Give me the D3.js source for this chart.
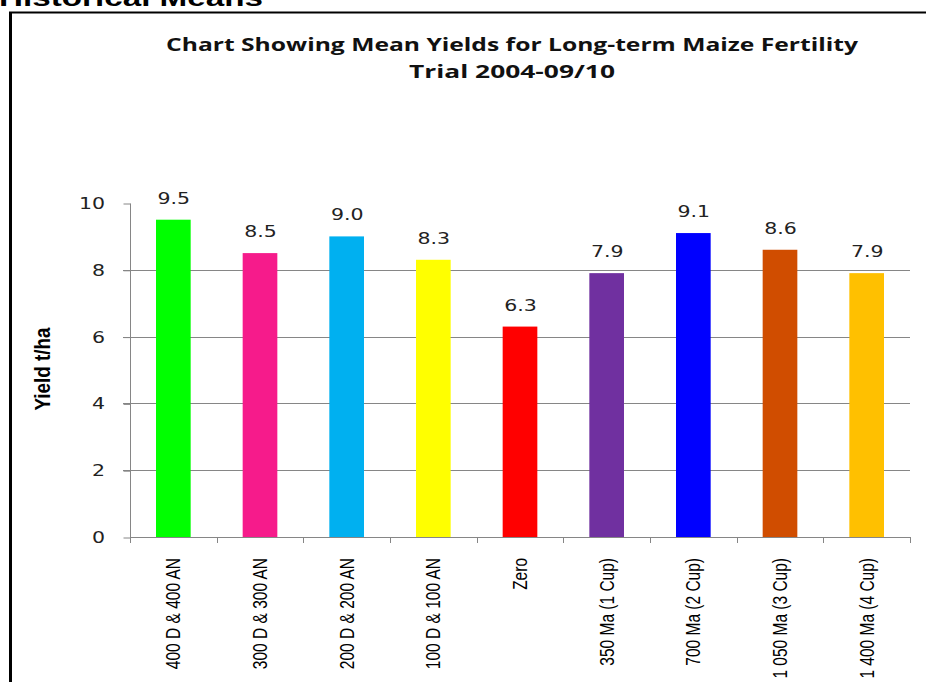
<!DOCTYPE html>
<html>
<head>
<meta charset="utf-8">
<script src="https://cdn.jsdelivr.net/npm/d3@7"></script>
<style>
  body { margin: 0; background: #fff; }
  svg { display: block; }
</style>
</head>
<body>
<div id="chart"></div>
<script>
// data
var treatments = ["400 D & 400 AN", "300 D & 300 AN", "200 D & 200 AN", "100 D & 100 AN",
    "Zero", "350 Ma (1 Cup)", "700 Ma (2 Cup)", "1 050 Ma (3 Cup)", "1 400 Ma (4 Cup)"];
var yields = [9.5, 8.5, 9.0, 8.3, 6.3, 7.9, 9.1, 8.6, 7.9];
var barColors = ["#00ff00", "#f61b8b", "#00b0f0", "#ffff00", "#ff0000",
    "#7030a0", "#0000ff", "#d04d00", "#ffc000"];
var yTicks = [0, 2, 4, 6, 8, 10];
var titleLines = ["Chart Showing Mean Yields for Long-term Maize Fertility", "Trial 2004-09/10"];

// svg container
var svgWidth = 926;
var svgHeight = 682;

// the original picture is stretched sideways, so text is too
var sx = 1.28;

var plot = { left: 130, right: 910, top: 203, bottom: 537 };

var svg = d3.select("#chart").append("svg")
    .attr("width", svgWidth)
    .attr("height", svgHeight);

svg.append("rect")
    .attr("width", svgWidth)
    .attr("height", svgHeight)
    .attr("fill", "#fff");

// page heading, cut off at the top
svg.append("text")
    .attr("x", -1)
    .attr("y", 6)
    .attr("font-family", "Liberation Sans, Arial, sans-serif")
    .attr("font-weight", "bold")
    .attr("font-size", "24px")
    .attr("textLength", 264)
    .attr("lengthAdjust", "spacingAndGlyphs")
    .attr("fill", "#000")
    .text("Historical Means");

// frame
svg.append("line")
    .attr("x1", 9).attr("x2", svgWidth)
    .attr("y1", 12.5).attr("y2", 12.5)
    .attr("stroke", "#000").attr("stroke-width", 2);
svg.append("line")
    .attr("x1", 10.5).attr("x2", 10.5)
    .attr("y1", 12).attr("y2", svgHeight)
    .attr("stroke", "#000").attr("stroke-width", 3);

// scales
var yScale = d3.scaleLinear()
    .domain([0, 10])
    .range([plot.bottom, plot.top]);

var xBand = d3.scaleBand()
    .domain(treatments)
    .range([plot.left, plot.right])
    .paddingInner(0.6)
    .paddingOuter(0.3);

var xCat = d3.scaleBand()
    .domain(treatments)
    .range([plot.left, plot.right]);

// gridlines (with the little ticks on the left)
svg.append("g")
    .selectAll("line")
    .data(yTicks.filter(d => d > 0 && d < 10))
    .enter()
    .append("line")
    .attr("x1", plot.left - 7)
    .attr("x2", plot.right)
    .attr("y1", d => Math.round(yScale(d)) + 0.5)
    .attr("y2", d => Math.round(yScale(d)) + 0.5)
    .attr("stroke", "#868686");

// y axis
var yAxis = d3.axisLeft(yScale)
    .tickValues(yTicks)
    .tickSize(7)
    .tickFormat(d3.format("d"));

var yAxisG = svg.append("g")
    .attr("transform", `translate(${plot.left + 0.5}, 0.5)`)
    .call(yAxis);
yAxisG.select(".domain").remove();
yAxisG.append("line")
    .attr("y1", plot.top).attr("y2", plot.bottom + 5)
    .attr("stroke", "#868686");
yAxisG.selectAll(".tick line").attr("stroke", "#868686");
yAxisG.selectAll(".tick text").remove();

// y tick labels
svg.append("g")
    .selectAll("text")
    .data(yTicks)
    .enter()
    .append("text")
    .attr("transform", d => `translate(105, ${yScale(d) + 6}) scale(${sx}, 1)`)
    .attr("text-anchor", "end")
    .attr("font-family", "DejaVu Sans, Verdana, sans-serif")
    .attr("font-size", "16px")
    .attr("fill", "#222")
    .text(d => d);

// x axis line and ticks at the category edges
svg.append("line")
    .attr("x1", plot.left).attr("x2", plot.right)
    .attr("y1", plot.bottom + 0.5).attr("y2", plot.bottom + 0.5)
    .attr("stroke", "#868686");

svg.append("g")
    .selectAll("line")
    .data(treatments.concat(["end"]))
    .enter()
    .append("line")
    .attr("x1", (d, i) => Math.round(plot.left + i * xCat.step()) + 0.5)
    .attr("x2", (d, i) => Math.round(plot.left + i * xCat.step()) + 0.5)
    .attr("y1", plot.bottom)
    .attr("y2", plot.bottom + 6)
    .attr("stroke", "#868686");

// bars
svg.append("g")
    .selectAll("rect")
    .data(yields)
    .enter()
    .append("rect")
    .attr("x", (d, i) => xBand(treatments[i]))
    .attr("width", xBand.bandwidth())
    .attr("y", d => yScale(d))
    .attr("height", d => yScale(0) - yScale(d))
    .attr("fill", (d, i) => barColors[i]);

// value labels
svg.append("g")
    .selectAll("text")
    .data(yields)
    .enter()
    .append("text")
    .attr("transform", (d, i) => `translate(${xCat(treatments[i]) + xCat.bandwidth() / 2 + 0.5}, ${yScale(d) - 16}) scale(${sx}, 1)`)
    .attr("text-anchor", "middle")
    .attr("font-family", "DejaVu Sans, Verdana, sans-serif")
    .attr("font-size", "16px")
    .attr("fill", "#222")
    .text(d => d3.format(".1f")(d));

// category labels, rotated
svg.append("g")
    .selectAll("text")
    .data(treatments)
    .enter()
    .append("text")
    .attr("transform", d => `translate(${xCat(d) + xCat.bandwidth() / 2}, 558) scale(${sx}, 1) rotate(-90)`)
    .attr("text-anchor", "end")
    .attr("dy", "0.35em")
    .attr("font-family", "Liberation Sans, Arial, sans-serif")
    .attr("font-size", "15.5px")
    .attr("fill", "#000")
    .text(d => d);

// y axis title
svg.append("text")
    .attr("transform", `translate(50, 369) scale(${sx}, 1) rotate(-90)`)
    .attr("text-anchor", "middle")
    .attr("font-family", "Liberation Sans, Arial, sans-serif")
    .attr("font-weight", "bold")
    .attr("font-size", "17px")
    .attr("textLength", 83)
    .attr("lengthAdjust", "spacingAndGlyphs")
    .attr("fill", "#000")
    .text("Yield t/ha");

// chart title
var titleWidths = [692, 206];
svg.append("g")
    .selectAll("text")
    .data(titleLines)
    .enter()
    .append("text")
    .attr("x", 512)
    .attr("y", (d, i) => 51 + i * 27)
    .attr("text-anchor", "middle")
    .attr("font-family", "Open Sans, sans-serif")
    .attr("font-weight", "bold")
    .attr("font-size", "17px")
    .attr("textLength", (d, i) => titleWidths[i])
    .attr("lengthAdjust", "spacingAndGlyphs")
    .attr("fill", "#111")
    .text(d => d);
</script>
</body>
</html>
